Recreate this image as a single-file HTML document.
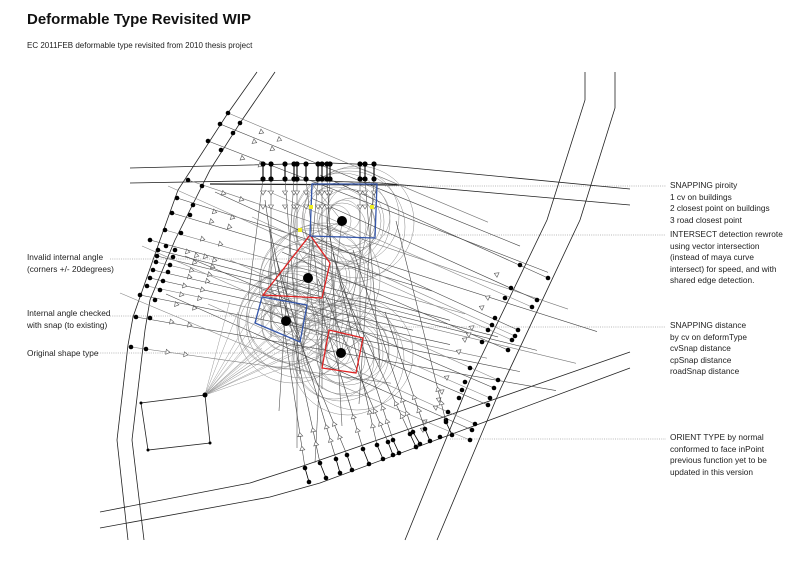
<!DOCTYPE html>
<html><head><meta charset="utf-8"><style>
html,body{margin:0;padding:0;background:#fff;}
#w{position:relative;width:800px;height:565px;overflow:hidden;font-family:"Liberation Sans",sans-serif;color:#222;}
.t{position:absolute;font-size:8.3px;line-height:11.6px;white-space:nowrap;}
</style></head><body><div id="w">
<div class="t" style="left:27px;top:11px;font-size:15px;font-weight:bold;line-height:18px;color:#111">Deformable Type Revisited WIP</div>
<div class="t" style="left:27px;top:40px;font-size:8px">EC 2011FEB deformable type revisited from 2010 thesis project</div>
<div class="t" style="left:670px;top:180px">SNAPPING piroity<br>1 cv on buildings<br>2 closest point on buildings<br>3 road closest point</div>
<div class="t" style="left:670px;top:229px">INTERSECT detection rewrote<br>using vector intersection<br>(instead of maya curve<br>intersect) for speed, and with<br>shared edge detection.</div>
<div class="t" style="left:670px;top:320px">SNAPPING distance<br>by cv on deformType<br>cvSnap distance<br>cpSnap distance<br>roadSnap distance</div>
<div class="t" style="left:670px;top:432px">ORIENT TYPE by normal<br>conformed to face inPoint<br>previous function yet to be<br>updated in this version</div>
<div class="t" style="left:27px;top:252px">Invalid internal angle<br>(corners +/- 20degrees)</div>
<div class="t" style="left:27px;top:308px">Internal angle checked<br>with snap (to existing)</div>
<div class="t" style="left:27px;top:348px">Original shape type</div>
<svg id="s" width="800" height="565" style="position:absolute;left:0;top:0" xmlns="http://www.w3.org/2000/svg">
<g stroke="#777" stroke-width="0.6" stroke-dasharray="1,1.2" fill="none">
<line x1="385" y1="186" x2="666" y2="186"/>
<line x1="380" y1="235" x2="666" y2="235"/>
<line x1="380" y1="327" x2="666" y2="327"/>
<line x1="450" y1="439" x2="666" y2="439"/>
<line x1="110" y1="259" x2="300" y2="259"/>
<line x1="110" y1="316" x2="260" y2="316"/>
<line x1="98" y1="353" x2="330" y2="353"/>
</g>
<g stroke="#222" stroke-width="0.8" fill="none">
<polyline points="257,72 228,113 178,190 160,240 133,317 128,345 117,440 128,540"/>
<polyline points="275,72 240,123 210,170 175,240 150,300 145,330 132,440 144,540"/>
<polyline points="130,168 330,163 380,165 630,189"/>
<polyline points="130,183 300,180 380,183 630,205"/>
<polyline points="585,72 585,100 547,220 470,380 405,540"/>
<polyline points="615,72 615,108 580,220 500,390 437,540"/>
<polyline points="100,512 250,483 300,467 630,352"/>
<polyline points="100,528 270,497 320,483 630,368"/>
<line x1="210" y1="184" x2="400" y2="185" stroke-width="1.3"/>
<polygon points="205,395 141,403 148,450 210,443"/>
</g>
<g id="gen"></g>
<g fill="none" stroke-width="1.3">
<polygon points="310,235 330,263 322,298 263,295" stroke="#d22"/>
<polygon points="329,330 363,338 356,373 322,368" stroke="#d22"/>
<polygon points="262,297 307,305 300,342 255,323" stroke="#35a"/>
<polygon points="312,184 377,184 375,238 310,236" stroke="#35a"/>
</g>
<g fill="#000">
<circle cx="308" cy="278" r="5"/><circle cx="286" cy="321" r="5"/><circle cx="341" cy="353" r="5"/><circle cx="342" cy="221" r="5"/>
<circle cx="205" cy="395" r="2.5"/><circle cx="141" cy="403" r="1.5"/><circle cx="148" cy="450" r="1.5"/><circle cx="210" cy="443" r="1.5"/>
</g>
<g fill="#ee2"><rect x="309" y="205" width="4" height="4"/><rect x="370" y="205" width="4" height="4"/><rect x="298" y="228" width="4" height="4"/></g>
</svg>
<script>
(function(){
var g=document.getElementById('gen'),h='';
function L(a,b,c,d,col,w){h+='<line x1="'+a+'" y1="'+b+'" x2="'+c+'" y2="'+d+'" stroke="'+(col||'#333')+'" stroke-width="'+(w||0.6)+'"/>';}
function D(x,y,r){h+='<circle cx="'+x+'" cy="'+y+'" r="'+(r||2.3)+'" fill="#000"/>';}
function A(x,y,dx,dy){var l=Math.hypot(dx,dy);dx/=l;dy/=l;var s=4,px=-dy,py=dx;
h+='<polygon points="'+(x+dx*s)+','+(y+dy*s)+' '+(x+px*2.5)+','+(y+py*2.5)+' '+(x-px*2.5)+','+(y-py*2.5)+'" fill="#fff" stroke="#555" stroke-width="0.6"/>';}
var C=[[308,278],[286,321],[341,353],[342,221]];
var rs=[16,24,32,40,48,56];
C.forEach(function(c,i){rs.forEach(function(r,j){for(var k=0;k<2;k++)h+='<circle cx="'+(c[0]+(j%3-1)*7+k*9)+'" cy="'+(c[1]+(j%2)*6-k*5)+'" r="'+r+'" fill="none" stroke="#8a8a8a" stroke-width="0.5"/>';});});
var LP=[[228,113,240,123],[220,124,233,133],[208,141,221,150],[188,180,202,186],[177,198,193,205],[172,213,190,215],[165,230,181,233],[158,250,175,250],[157,256,173,257],[156,262,170,265],[153,270,168,272],[150,278,163,281],[147,286,160,290],[140,295,155,300],[136,317,150,318],[131,347,146,349],[150,240,166,246]];
LP.forEach(function(p,i){var dx=1,dy=0.42-(p[1]-113)*0.0012;var len=260+(i%5)*40;
L(p[0],p[1],p[0]+dx*len,p[1]+dy*len,i%3?'#444':'#777',0.6);D(p[0],p[1]);D(p[2],p[3]);
A(p[2]+20,p[3]+20*dy,dx,dy);A(p[2]+38,p[3]+38*dy,dx,dy);});
var RP=[[511,288,537,300],[505,298,532,307],[495,318,518,330],[488,330,512,340],[482,342,508,350],[470,368,498,380],[465,382,494,388],[462,390,490,398],[459,398,488,405],[448,412,475,424],[446,420,472,430],[440,437,470,440],[520,265,548,278],[492,325,515,336]];
RP.forEach(function(p,i){var dx=-1,dy=-0.45;var len=200+(i%4)*40;
L(p[2],p[3],p[0]+dx*len,p[1]+dy*len,i%2?'#888':'#444',0.6);D(p[0],p[1]);D(p[2],p[3]);
A(p[0]-22,p[1]+10,dx,dy);});
var TX=[263,271,285,294,297,306,318,322,327,330,360,365,374];
TX.forEach(function(x,i){L(x,164,x,179,'#000',1.1);L(x,179,x+((i%3)-1)*15,300+(i*37)%170,'#555',0.6);D(x,164,2.6);D(x,179,2.6);A(x,191,0,1);A(x,205,0,1);});
var BP=[[305,468,309,482],[320,463,326,478],[336,459,340,473],[347,455,352,470],[363,449,369,464],[377,445,383,459],[393,440,399,453],[410,434,416,447],[425,429,430,441],[446,422,452,435],[413,432,420,444],[388,442,393,455]];
BP.forEach(function(p,i){var tx=p[0]-40-(i%4)*10,ty=200+(i*29)%120;L(p[0],p[1],tx,ty,'#444',0.6);L(p[0],p[1],p[2],p[3],'#000',0.8);D(p[0],p[1]);D(p[2],p[3]);
var dx=tx-p[0],dy=ty-p[1];var l=Math.hypot(dx,dy);A(p[0]+dx*18/l,p[1]+dy*18/l,dx,dy);A(p[0]+dx*32/l,p[1]+dy*32/l,dx,dy);});
for(var i=0;i<16;i++){L(205,395,230+i*8,300+(i%5)*12,'#999',0.5);}
var tg=[[310,235],[330,263],[322,298],[263,295],[329,330],[363,338],[356,373],[322,368],[262,297],[307,305],[300,342],[255,323],[312,184],[377,184],[375,238],[310,236]];
for(var i=0;i<16;i++){var a=C[i%4];var b=tg[(i*7+3)%16];L(a[0],a[1],b[0],b[1],'#666',0.5);}
g.innerHTML=h;
})();
</script>
</div></body></html>
